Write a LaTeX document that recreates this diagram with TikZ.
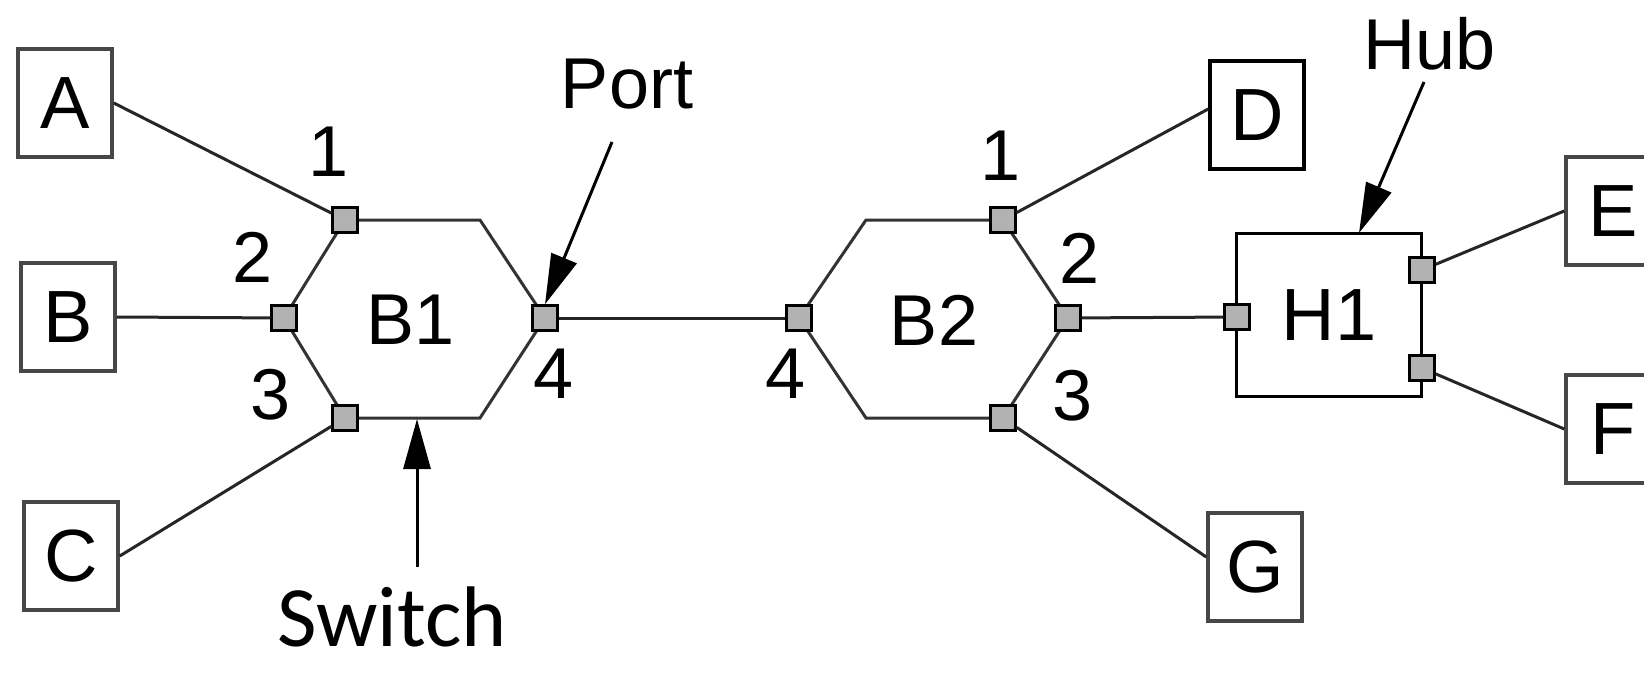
\documentclass[tikz,border=0pt]{standalone}
\usepackage{fontspec}
\setmainfont{Liberation Sans}
\newfontfamily\swfont{Carlito}
\usetikzlibrary{arrows.meta}
\begin{document}
\begin{tikzpicture}[x=1pt,y=-1pt,
  host/.style={draw=black!72, line width=3.5pt, minimum width=94pt, minimum height=108pt, inner sep=0pt, font=\fontsize{74}{74}\selectfont},
  port/.style={draw=black, fill=black!30, line width=2.5pt, minimum size=25pt, inner sep=0pt},
  wire/.style={line width=3pt, draw=black!85},
  hexline/.style={line width=3pt, draw=black!80, line join=miter},
  lbl/.style={font=\fontsize{72}{72}\selectfont, inner sep=0pt},
  pointer/.style={line width=3pt, -{Triangle[length=50pt,width=27pt]}}
]
\useasboundingbox (0,0) rectangle (1644,674);

% hexagon B1 corners
\coordinate (b1L) at (284,318);
\coordinate (b1TL) at (345,220);
\coordinate (b1TR) at (480,220);
\coordinate (b1R) at (545,318);
\coordinate (b1BR) at (480,418);
\coordinate (b1BL) at (345,418);
% hexagon B2 corners
\coordinate (b2L) at (799,318);
\coordinate (b2TL) at (866,220);
\coordinate (b2TR) at (1003,220);
\coordinate (b2R) at (1068,318);
\coordinate (b2BR) at (1003,418);
\coordinate (b2BL) at (866,418);

\draw[hexline] (b1L) -- (b1TL) -- (b1TR) -- (b1R) -- (b1BR) -- (b1BL) -- cycle;
\draw[hexline] (b2L) -- (b2TL) -- (b2TR) -- (b2R) -- (b2BR) -- (b2BL) -- cycle;

\node[lbl] (b1name) at (411,320) {B1};
\node[lbl] (b2name) at (934,320) {B2};

% ports
\node[port] (b1p1) at (b1TL) {};
\node[port] (b1p2) at (b1L) {};
\node[port] (b1p3) at (b1BL) {};
\node[port] (b1p4) at (b1R) {};
\node[port] (b2p1) at (b2TR) {};
\node[port] (b2p2) at (b2R) {};
\node[port] (b2p3) at (b2BR) {};
\node[port] (b2p4) at (b2L) {};

% port numbers
\node[lbl] (n11) at (329,152) {1};
\node[lbl] (n12) at (253,257) {2};
\node[lbl] (n13) at (271,395) {3};
\node[lbl] (n14) at (554,374) {4};
\node[lbl] (n21) at (1001,156) {1};
\node[lbl] (n22) at (1080,258) {2};
\node[lbl] (n23) at (1073,396) {3};
\node[lbl] (n24) at (786,374) {4};

% hosts
\node[host] (A) at (65,103) {A};
\node[host] (B) at (68,317) {B};
\node[host] (C) at (71,556) {C};
\node[host, draw=black] (D) at (1257,115) {D};
\node[host] (G) at (1255,567) {G};
\node[host] (E) at (1613,211) {E};
\node[host] (F) at (1613,429) {F};

% hub
\node[draw=black, line width=3pt, minimum width=185pt, minimum height=163pt, inner sep=0pt, font=\fontsize{74}{74}\selectfont] (H1) at (1329,315) {H1};
\node[port] (h1w) at (1237,317) {};
\node[port] (h1e1) at (1422,270) {};
\node[port] (h1e2) at (1422,368) {};

% wires
\draw[wire] (A.east) -- (b1p1);
\draw[wire] (B.east) -- (b1p2);
\draw[wire] (C.east) -- (b1p3);
\draw[wire] (b1p4) -- (b2p4);
\draw[wire] ([yshift=6pt]D.west) -- (b2p1);
\draw[wire] ([yshift=10pt]G.west) -- (b2p3);
\draw[wire] (b2p2) -- (h1w);
\draw[wire] (h1e1) -- (E.west);
\draw[wire] (h1e2) -- (F.west);

% callouts
\node[lbl] (portlbl) at (627,84) {Port};
\node[lbl] (hublbl) at (1430,44) {Hub};
\node[font=\swfont\fontsize{86}{86}\selectfont, inner sep=0pt] (swlbl) at (392,617) {Switch};

\coordinate (portfrom) at (612,142);
\coordinate (hubfrom) at (1424,82);
\coordinate (hubto) at (1359,233);
\coordinate (swfrom) at (417,567);
\coordinate (swto) at (417,419);

\draw[pointer] (portfrom) -- (b1p4.north);
\draw[pointer] (hubfrom) -- (hubto);
\draw[pointer] (swfrom) -- (swto);
\end{tikzpicture}
\end{document}
